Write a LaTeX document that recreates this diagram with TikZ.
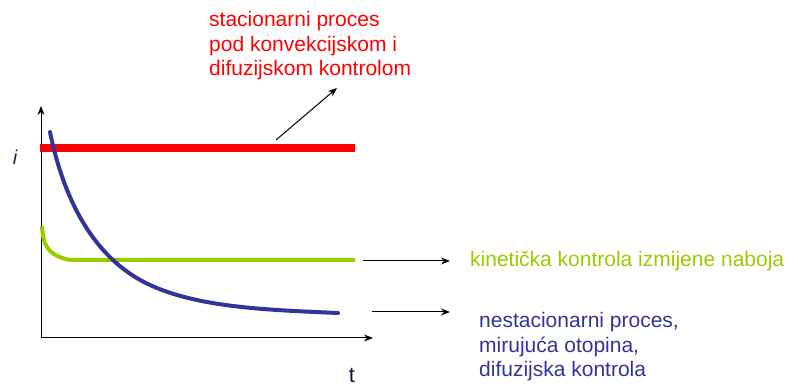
\documentclass[tikz,border=0pt]{standalone}
\usepackage{fontspec}
\setmainfont{Liberation Sans}
\usetikzlibrary{arrows.meta}
\definecolor{redc}{RGB}{255,0,0}
\definecolor{greenc}{RGB}{153,204,0}
\definecolor{bluec}{RGB}{51,51,153}
\tikzset{
  lbl/.style={inner sep=0pt, align=left, anchor=west, font=\fontsize{21}{24.5}\selectfont},
  pointer/.style={line width=1pt, -{Stealth[length=9pt,width=7pt]}},
  axisline/.style={line width=1pt, -{Stealth[length=9pt,width=7pt]}},
}
\begin{document}
\begin{tikzpicture}[x=1pt,y=-1pt]
\useasboundingbox (0,0) rectangle (798,387);
% axes
\coordinate (o) at (41,338);
\coordinate (ytip) at (41,106);
\coordinate (xtip) at (373,338);
\draw[axisline] (o) -- (ytip);
\draw[axisline] (o) -- (xtip);
\node[inner sep=0pt, font=\fontsize{20}{20}\selectfont\itshape, text=bluec!60!black] (ilab) at (15,157) {i};
\node[inner sep=0pt, font=\fontsize{22}{22}\selectfont, text=bluec!40!black] (tlab) at (352,375) {t};
% red stationary line
\draw[redc, line width=8pt] (40,148) -- (355,148);
% green curve
\draw[greenc, line width=4pt] (42,226) .. controls (43,250) and (52,256) .. (70,260) -- (355,260);
% blue curve
\draw[bluec, line width=4pt, line cap=round] (50,132) .. controls (66,210) and (100,262) .. (150,285)
  .. controls (200,308) and (270,310) .. (338,313);
% labels
\node[lbl, text=redc] (title) at (209,46) {stacionarni proces\\pod konvekcijskom i\\difuzijskom kontrolom};
\node[lbl, text=greenc] (kin) at (470,261) {kinetička kontrola izmijene naboja};
\node[lbl, text=bluec] (nest) at (479,347) {nestacionarni proces,\\mirujuća otopina,\\difuzijska kontrola};
% arrows
\coordinate (ra) at (276,140);
\coordinate (rb) at (337,88);
\draw[pointer] (ra) -- (rb);
\coordinate (ga) at (363,261);
\coordinate (gb) at (450,261);
\draw[pointer] (ga) -- (gb);
\coordinate (ba) at (372,312);
\coordinate (bb) at (450,312);
\draw[pointer] (ba) -- (bb);
\end{tikzpicture}
\end{document}
